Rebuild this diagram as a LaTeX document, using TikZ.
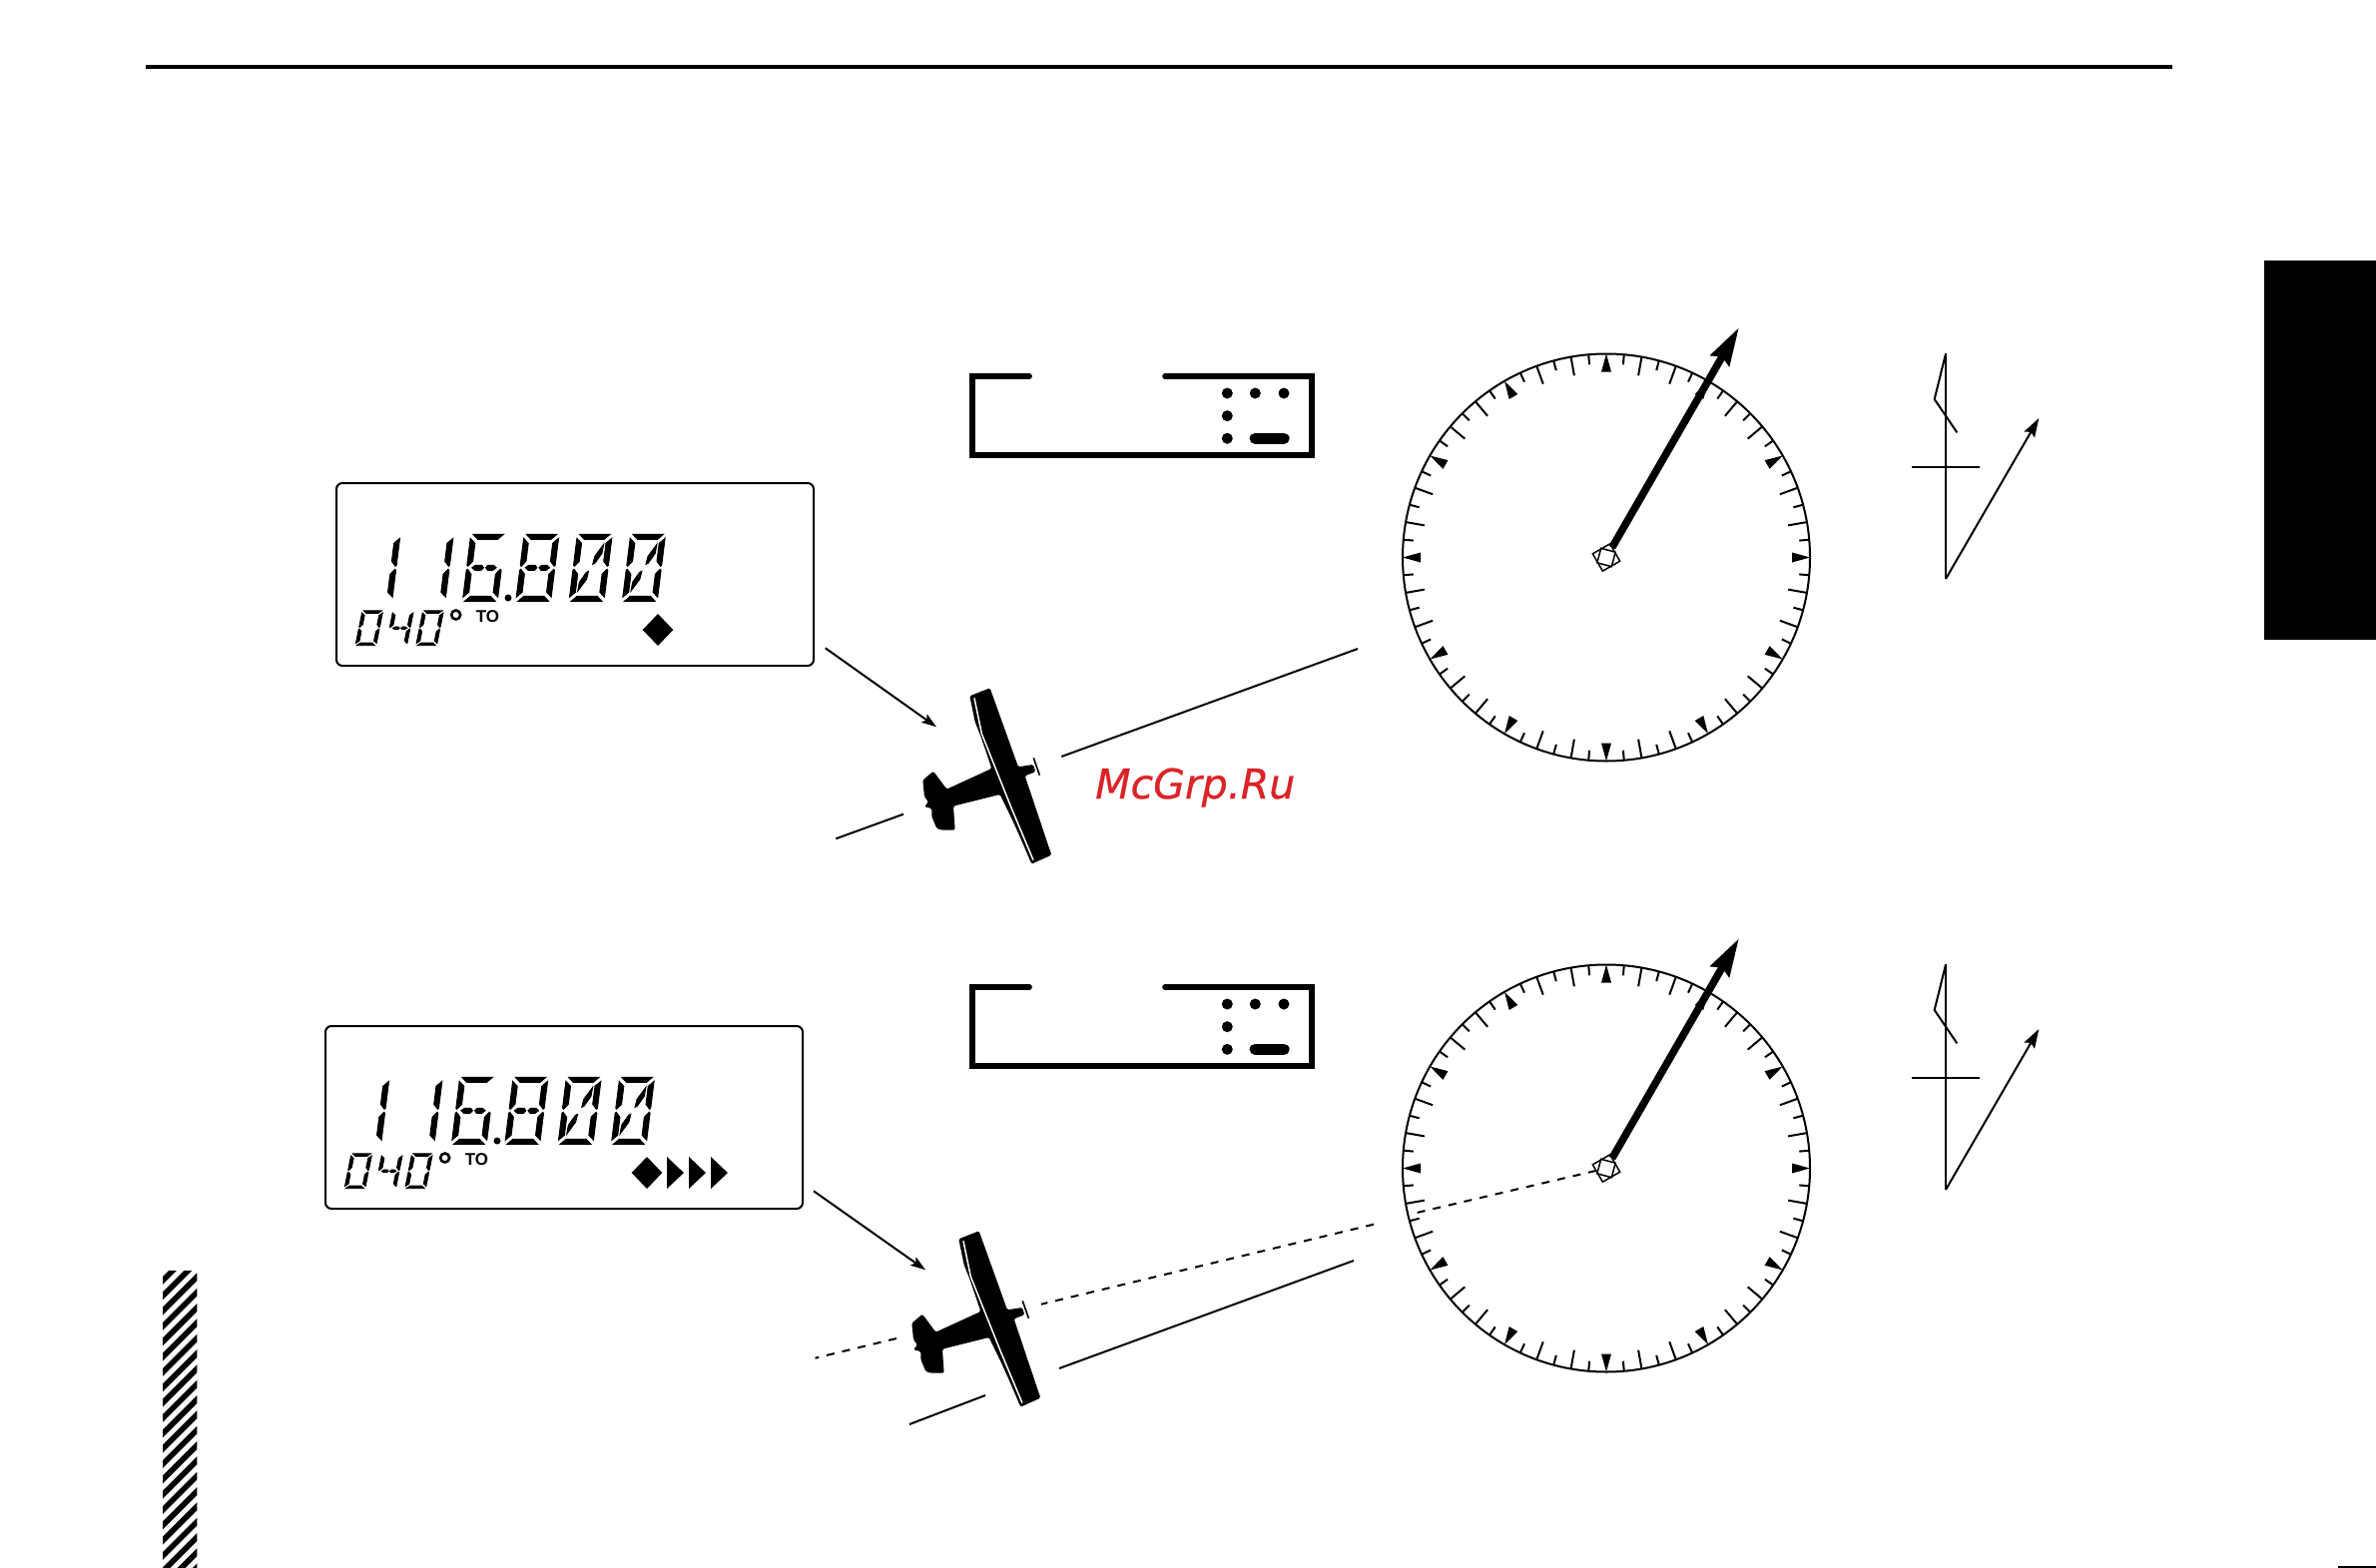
\documentclass[tikz,border=0pt]{standalone}
\usepackage{fontspec}
\usetikzlibrary{arrows.meta}
\newfontfamily\panelfont{Liberation Sans}
\newfontfamily\markfont[FakeBold=.6]{DejaVu Sans}
\definecolor{markred}{RGB}{219,35,40}
% lcd segments, digit cell 33 wide and 67 high, origin bottom left
\newcommand*{\segT}{(2,-67) -- (31,-67) -- (26,-62) -- (7,-62) -- cycle}
\newcommand*{\segB}{(2,0) -- (31,0) -- (26,-5) -- (7,-5) -- cycle}
\newcommand*{\segUL}{(0,-63) -- (5,-58) -- (5,-40) -- (1,-35) -- (0,-36) -- cycle}
\newcommand*{\segUR}{(33,-63) -- (28,-58) -- (28,-40) -- (32,-35) -- (33,-36) -- cycle}
\newcommand*{\segLL}{(0,-4) -- (5,-9) -- (5,-27) -- (1,-32) -- (0,-31) -- cycle}
\newcommand*{\segLR}{(33,-4) -- (28,-9) -- (28,-27) -- (32,-32) -- (33,-31) -- cycle}
\newcommand*{\segML}{(5,-33.5) -- (8,-36) -- (14,-36) -- (16,-33.5) -- (14,-31) -- (8,-31) -- cycle}
\newcommand*{\segMR}{(18,-33.5) -- (20,-36) -- (25,-36) -- (28,-33.5) -- (25,-31) -- (20,-31) -- cycle}
\newcommand*{\segDU}{(26,-57) -- (25.5,-48) -- (20,-38) -- (18,-37) -- (19,-45) -- cycle}
\newcommand*{\segDL}{(7,-10) -- (7.5,-19) -- (13,-29) -- (15,-30) -- (14,-22) -- cycle}
\newcommand*{\lcdchar}[3]{%
  \begin{scope}[shift={(#1)},#2]
    \foreach \s in #3 {\expandafter\fill\csname seg\s\endcsname;}
  \end{scope}}
\newcommand*{\lcdpanel}[2]{%
  \begin{scope}[shift={(#2)}]
    \node[lcdbox] (#1) at (576,575.5) {};
    \foreach \x/\segs in {357.7/{UR,LR},411/{UR,LR},463.3/{T,UL,LL,ML,MR,B,LR},
        516.7/{T,UL,UR,ML,MR,LL,LR,B},570/{T,UL,UR,LL,LR,B,DU,DL},623.3/{T,UL,UR,LL,LR,B,DU,DL}}
      {\lcdchar{\x,602.3}{bigdigit}{\segs}}
    \foreach \x/\segs in {356/{T,UL,UR,LL,LR,B},386.7/{UL,UR,ML,MR,LR},416.7/{T,UL,UR,LL,LR,B}}
      {\lcdchar{\x,646.7}{smalldigit}{\segs}}
    \fill (509,599) circle (3.5);
    \draw[line width=2.6pt] (456.7,616) circle (4.5);
    \node[tolabel] (#1to) at (488.5,617.5) {TO};
  \end{scope}}
\newcommand*{\hdgbox}[1]{%
  \begin{scope}[shift={(0,#1)}]
    \draw[line width=5.7pt,line cap=round,line join=miter]
      (1031,377) -- (974,377) -- (974,456) -- (1314,456) -- (1314,377) -- (1167,377);
    \foreach \x/\y in {1229.3/394,1257.3/394,1286/394,1229.3/416.7,1229.3/439.3}
      \fill (\x,\y) circle (5.5);
    \draw[line width=11.3pt,line cap=round] (1257.3,439.3) -- (1286,439.3);
  \end{scope}}
\newcommand*{\dialface}[2]{%
  \node[dialrim] (#1) at (#2) {};
  \foreach \a in {0,30,...,330} {
    \fill[shift={(#1.\a)},rotate=\a] (0,0) -- (-18,5) -- (-18,-5) -- cycle;
    \foreach \d in {10,20} {
      \pgfmathtruncatemacro\b{\a+\d}
      \draw[tick,shift={(#1.\b)},rotate=\b] (0,0) -- (-19,0);
    }
  }
  \foreach \a in {5,15,...,355}
    \draw[tick,shift={(#1.\a)},rotate=\a] (0,0) -- (-10,0);
  \node[hubsq,minimum size=20pt,rotate=30] (#1hub) at (#2) {};
  \node[hubsq,minimum size=15pt,rotate=-15] (#1hubin) at (#2) {};}
\newcommand*{\vectorsketch}[2]{%
  \begin{scope}[shift={(0,#2)}]
    \coordinate (#1top) at (1949,354.3);
    \coordinate (#1kink) at (1937.7,400);
    \coordinate (#1end) at (1960.3,433.3);
    \coordinate (#1base) at (1949,580);
    \coordinate (#1crossl) at (1915,467.7);
    \coordinate (#1crossr) at (1983,467.7);
    \coordinate (#1tip) at (2042.3,419);
    \draw[thinline] (#1top) -- (#1base);
    \draw[thinline] (#1top) -- (#1kink) -- (#1end);
    \draw[thinline] (#1crossl) -- (#1crossr);
    \draw[thinline,-{Stealth[length=19pt,width=12pt,inset=3pt]}] (#1base) -- (#1tip);
  \end{scope}}
\newcommand*{\aircraft}[1]{%
  \begin{scope}[shift={(#1)},shift={(800,660)},scale=.3333]
    \fill[rounded corners=1.5pt] (514,112) -- (575,88) -- (660,325) -- (705,318) -- (712,340) -- (680,352)
      -- (760,590) -- (700,617) -- (665,535) -- (640,480) -- (605,408) -- (465,443) -- (470,515)
      -- (430,515) -- (415,510) -- (400,475) -- (400,450) -- (378,445) -- (390,430) -- (378,415)
      -- (373,365) -- (405,338) -- (445,392) -- (580,330) -- (548,235) -- (530,190) -- cycle;
    \draw[white,line width=1.5pt] (528,118) -- (550,225) -- (640,450) -- (705,605);
    \draw[line width=1.6pt] (706,298) -- (724,350);
  \end{scope}}
\begin{document}
\begin{tikzpicture}[x=1pt,y=-1pt,thinline/.style={line width=2pt},
    lcdbox/.style={draw,rounded corners=6pt,line width=2pt,minimum width=478pt,minimum height=183pt,inner sep=0pt,outer sep=0pt},
    bigdigit/.style={xslant=.125,xscale=1.06,every path/.style={draw,line width=.9pt}},
    smalldigit/.style={xslant=.2,xscale=.63,yscale=.52,every path/.style={draw,line width=.8pt}},
    tolabel/.style={inner sep=0pt,font=\panelfont\bfseries\fontsize{17pt}{17pt}\selectfont},
    dialrim/.style={draw,circle,line width=2pt,minimum size=408pt,inner sep=0pt,outer sep=0pt},
    tick/.style={line width=2pt},
    hubsq/.style={draw,line width=1.5pt,inner sep=0pt,outer sep=0pt},
    needle/.style={line width=7.5pt,-{Stealth[length=38pt,width=21pt,inset=4pt]}},
    pointer/.style={thinline,-{Stealth[length=15pt,width=10pt,inset=3pt]}},
    coursedash/.style={thinline,dash pattern=on 8pt off 8pt}]
  \useasboundingbox (0,0) rectangle (2380,1571);
  % page furniture
  \coordinate (rulel) at (146,67);
  \coordinate (ruler) at (2176,67);
  \draw[line width=4pt] (rulel) -- (ruler);
  \fill (2268,261) rectangle (2380,641);
  \fill (2342,1568.5) rectangle (2380,1571);
  \begin{scope}
    \clip (163,1273) rectangle (197.3,1571);
    \foreach \k in {-1,...,21}
      \draw[line width=5.6pt] (160,1286+15.33*\k) -- (200,1246+15.33*\k);
  \end{scope}
  % upper row
  \lcdpanel{lcda}{0,0}
  \fill (659,615) -- (674.3,631) -- (659,647) -- (643.7,631) -- cycle;
  \hdgbox{0}
  \dialface{diala}{1609,558.5}
  \coordinate (tipa) at (1742,328);
  \draw[needle] (dialahub) -- (tipa);
  \vectorsketch{veca}{0}
  \aircraft{0,0}
  \coordinate (lcdaout) at (826.7,649.3);
  \coordinate (planea) at (938,728.3);
  \draw[pointer] (lcdaout) -- (planea);
  \coordinate (courseal) at (837.3,840.3);
  \coordinate (coursealin) at (905,815.7);
  \coordinate (courseain) at (1063.3,758);
  \coordinate (coursear) at (1360,650);
  \draw[thinline] (courseal) -- (coursealin);
  \draw[thinline] (courseain) -- (coursear);
  \node[anchor=base west,inner sep=0pt,text=markred,font=\markfont\itshape\fontsize{41pt}{41pt}\selectfont] (mark) at (1097,800) {McGrp.Ru};
  % lower row
  \lcdpanel{lcdb}{-11,544}
  \begin{scope}[shift={(-11,544)}]
    \fill (659,615) -- (674.3,631) -- (659,647) -- (643.7,631) -- cycle;
    \foreach \x in {679,701,723}
      \fill (\x,615) -- (\x+17,631) -- (\x,647) -- cycle;
  \end{scope}
  \hdgbox{612}
  \dialface{dialb}{1609,1170.5}
  \coordinate (tipb) at (1742,940);
  \draw[needle] (dialbhub) -- (tipb);
  \vectorsketch{vecb}{612}
  \aircraft{-11,544}
  \coordinate (lcdbout) at (815,1193.3);
  \coordinate (planeb) at (927,1272.3);
  \draw[pointer] (lcdbout) -- (planeb);
  \coordinate (dashrim) at (1415,1216);
  \coordinate (dashout) at (1376,1226.7);
  \coordinate (dashprop) at (1043,1306.7);
  \coordinate (dashtail) at (898,1341);
  \coordinate (dashend) at (816.5,1360.7);
  \draw[coursedash] (dialbhub) -- (dashrim);
  \draw[coursedash] (dashout) -- (dashprop);
  \draw[coursedash] (dashtail) -- (dashend);
  \coordinate (coursebr) at (1356,1263);
  \coordinate (coursebin) at (1061,1371);
  \coordinate (coursebwing) at (987,1398);
  \coordinate (coursebl) at (911,1427);
  \draw[thinline] (coursebr) -- (coursebin);
  \draw[thinline] (coursebwing) -- (coursebl);
\end{tikzpicture}
\end{document}
